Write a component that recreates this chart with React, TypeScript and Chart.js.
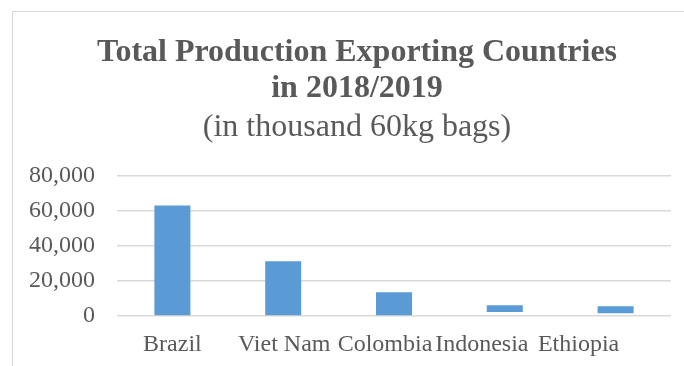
import React, { useEffect, useRef } from "react";
import { Chart, registerables } from "chart.js";

Chart.register(...registerables);

const categories = ["Brazil", "Viet Nam", "Colombia", "Indonesia", "Ethiopia"];
const barStarts = [0, 0, 0, 2300, 1550];
const barEnds = [63200, 31250, 13550, 6100, 5550];
const yMin = 0;
const yMax = 80000;
const yStep = 20000;
const titleLines = ["Total Production Exporting Countries", "in 2018/2019"];
const subtitleText = "(in thousand 60kg bags)";

const FONT = "'Liberation Serif', 'Times New Roman', serif";
const TEXT = "#595959";

export default function App() {
  const ref = useRef<HTMLCanvasElement | null>(null);

  useEffect(() => {
    document.body.style.margin = "0";
    const canvas = ref.current;
    if (!canvas) return;
    const data = categories.map((_, i) => [barStarts[i], barEnds[i]]);
    // horizontal nudges of the category labels, as laid out in the original
    const labelNudges = [0, 1, -9, -23, -37];
    const titleShift = 7;
    const chart = new Chart(canvas, {
      type: "bar",
      data: {
        labels: categories,
        datasets: [
          {
            data: data as any,
            backgroundColor: "#5b9bd5",
            borderWidth: 0,
            barPercentage: 0.325,
            categoryPercentage: 1,
          },
        ],
      },
      plugins: [
        {
          id: "shiftTitles",
          afterLayout: (c: any) => {
            (c.boxes || []).forEach((b: any) => {
              if (b && b.position === "top" && !b.axis) {
                b.left += titleShift;
                b.right += titleShift;
              }
            });
          },
        },
      ],
      options: {
        responsive: false,
        animation: false,
        layout: { padding: { left: 29, right: 13, top: 0, bottom: 0 } },
        plugins: {
          legend: { display: false },
          tooltip: { enabled: false },
          title: {
            display: true,
            text: titleLines,
            color: TEXT,
            font: { family: FONT, size: 32, weight: "bold", lineHeight: 1.125 },
            padding: { top: 35, bottom: 3 },
          },
          subtitle: {
            display: true,
            text: subtitleText,
            color: TEXT,
            font: { family: FONT, size: 32, weight: "normal", lineHeight: 1.125 },
            padding: { top: 0, bottom: 30 },
          },
        },
        scales: {
          x: {
            afterFit: (s: any) => {
              s.height = 50;
            },
            afterUpdate: (s: any) => {
              if (s.__nudged) return;
              s.__nudged = true;
              const orig = s._computeLabelItems.bind(s);
              s._computeLabelItems = (area: any) => {
                const items = orig(area);
                items.forEach((it: any, i: number) => {
                  const t = it.options && it.options.translation;
                  if (t) it.options.translation = [t[0] + (labelNudges[i] || 0), t[1]];
                });
                return items;
              };
            },
            grid: { display: false, drawTicks: false },
            border: { display: false },
            ticks: {
              color: TEXT,
              font: { family: FONT, size: 24, lineHeight: 1.2 },
              padding: 14,
              maxRotation: 0,
              autoSkip: false,
            },
          },
          y: {
            min: yMin,
            max: yMax,
            afterFit: (s: any) => {
              s.width = 88;
            },
            grid: { color: "#d9d9d9", lineWidth: 1.5, drawTicks: false },
            border: { display: false },
            ticks: {
              stepSize: yStep,
              autoSkip: false,
              color: TEXT,
              font: { family: FONT, size: 24 },
              padding: 22,
              callback: (v: any) => Number(v).toLocaleString("en-US"),
            },
          },
        },
      },
    });
    return () => chart.destroy();
  }, []);

  return (
    <div style={{ position: "relative", width: 684, height: 366, overflow: "hidden", background: "#fff" }}>
      <canvas ref={ref} width={684} height={366} style={{ display: "block" }} />
      <div
        style={{
          position: "absolute",
          left: 12,
          top: 11,
          width: 700,
          height: 400,
          borderTop: "1.5px solid #d9d9d9",
          borderLeft: "1.5px solid #d9d9d9",
          pointerEvents: "none",
        }}
      />
    </div>
  );
}
